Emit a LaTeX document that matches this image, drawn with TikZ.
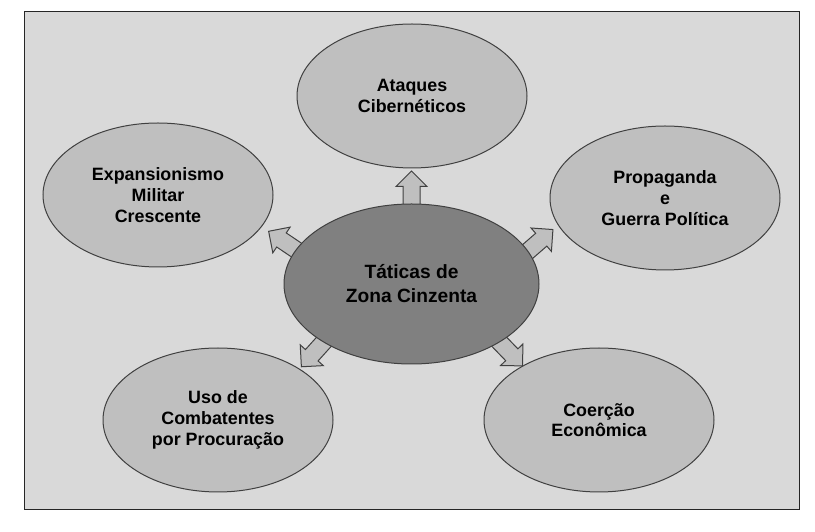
\documentclass[tikz,border=0pt]{standalone}
\usepackage{fontspec}
\setmainfont{Liberation Sans}
\usetikzlibrary{shapes.geometric,shapes.arrows,calc}
\pgfdeclarelayer{fundo}
\pgfdeclarelayer{setas}
\pgfsetlayers{fundo,setas,main}
\definecolor{cinzafundo}{HTML}{D9D9D9}
\definecolor{cinzaclaro}{HTML}{BFBFBF}
\definecolor{cinzaescuro}{HTML}{808080}
\definecolor{contorno}{HTML}{404040}
\begin{document}
\begin{tikzpicture}[x=0.75pt,y=0.75pt,
	tatica/.style={ellipse,draw=contorno,fill=cinzaclaro,line width=0.75pt,minimum width=172.5pt,minimum height=108pt,inner sep=0pt,align=center,font=\bfseries\fontsize{13.4}{15.5}\selectfont},
	nucleo/.style={tatica,fill=cinzaescuro,minimum width=191.25pt,minimum height=120pt,font=\bfseries\fontsize{14.4}{18}\selectfont},
	seta/.style={single arrow,draw=contorno,fill=cinzaclaro,line width=0.75pt,inner sep=0pt,inner ysep=6pt,single arrow head extend=5.25pt,minimum height=27pt,anchor=tail}]
	\useasboundingbox (0,0) rectangle (815,532);
	\begin{pgfonlayer}{fundo}
		\draw[fill=cinzafundo,draw=black!85,line width=0.75pt] (24,22) rectangle (799,520);
	\end{pgfonlayer}
	%centro
	\node[nucleo] (zona) at (411.5,248) {Táticas de\\Zona Cinzenta};
	%taticas
	\node[tatica] (ataques) at (412,436) {Ataques\\Cibernéticos};
	\node[tatica] (expansao) at (158,337) {Expansionismo\\Militar\\Crescente};
	\node[tatica] (propaganda) at (665,334) {Propaganda\\e\\Guerra Política};
	\node[tatica] (procuracao) at (218,112) {Uso de\\Combatentes\\por Procuração};
	\node[tatica] (coercao) at (599,112) {Coerção\\Econômica};
	%setas
	\begin{pgfonlayer}{setas}
		\node[seta,rotate=90] (s-ataques) at ($(zona.90)!3pt!(zona.center)$) {};
		\node[seta,rotate=146] (s-expansao) at ($(zona.164)!3pt!(zona.center)$) {};
		\node[seta,rotate=41] (s-propaganda) at ($(zona.15)!3pt!(zona.center)$) {};
		\node[seta,rotate=228] (s-procuracao) at ($(zona.213)!3pt!(zona.center)$) {};
		\node[seta,rotate=314] (s-coercao) at ($(zona.327)!3pt!(zona.center)$) {};
	\end{pgfonlayer}
\end{tikzpicture}
\end{document}
